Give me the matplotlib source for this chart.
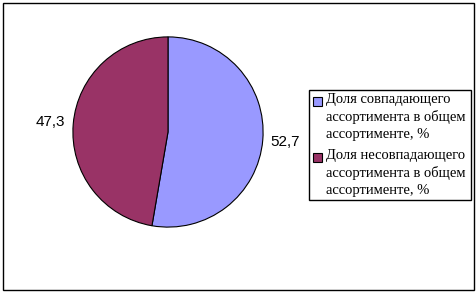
import matplotlib
matplotlib.use('Agg')
import matplotlib.pyplot as plt
from matplotlib.patches import Rectangle

# values
labels = ['Доля совпадающего\nассортимента в общем\nассортименте, %',
          'Доля несовпадающего\nассортимента в общем\nассортименте, %']
values = [52.7, 47.3]
value_labels = ['52,7', '47,3']
colors = ['#9999FF', '#993366']

W, H = 477, 293
fig = plt.figure(figsize=(W / 100, H / 100), dpi=100)
fig.patch.set_facecolor('white')

# outer frame of the chart area
fig.patches.append(Rectangle((3 / W, 3 / H), 471 / W, 287 / H,
                             transform=fig.transFigure, fill=False,
                             edgecolor='black', linewidth=1))

ax = fig.add_axes([71 / W, 64 / H, 194 / W, 194 / H])
wedges, texts = ax.pie(values, labels=value_labels, colors=colors,
                       startangle=90, counterclock=False, labeldistance=1.24,
                       wedgeprops={'edgecolor': 'black', 'linewidth': 0.8},
                       textprops={'fontsize': 11, 'family': ['Liberation Sans']})
for t in texts:
    t.set_ha('center')
    t.set_va('center')
ax.set_xlim(-1.02, 1.02)
ax.set_ylim(-1.02, 1.02)
ax.set_aspect('equal')

# legend box drawn by hand so the square sits next to the first line
fig.patches.append(Rectangle((309 / W, 1 - 200 / H), 162 / W, 110 / H,
                             transform=fig.transFigure, fill=False,
                             edgecolor='black', linewidth=1))
for i, (lab, col) in enumerate(zip(labels, colors)):
    top = 93 + i * 56
    fig.patches.append(Rectangle((313 / W, 1 - (top + 13) / H), 9 / W, 9 / H,
                                 transform=fig.transFigure, facecolor=col,
                                 edgecolor='black', linewidth=0.8))
    fig.text(326 / W, 1 - top / H, lab, ha='left', va='top',
             family=['Liberation Serif'], fontsize=10.5, linespacing=1.36)

fig.savefig('out.png', dpi=100)
